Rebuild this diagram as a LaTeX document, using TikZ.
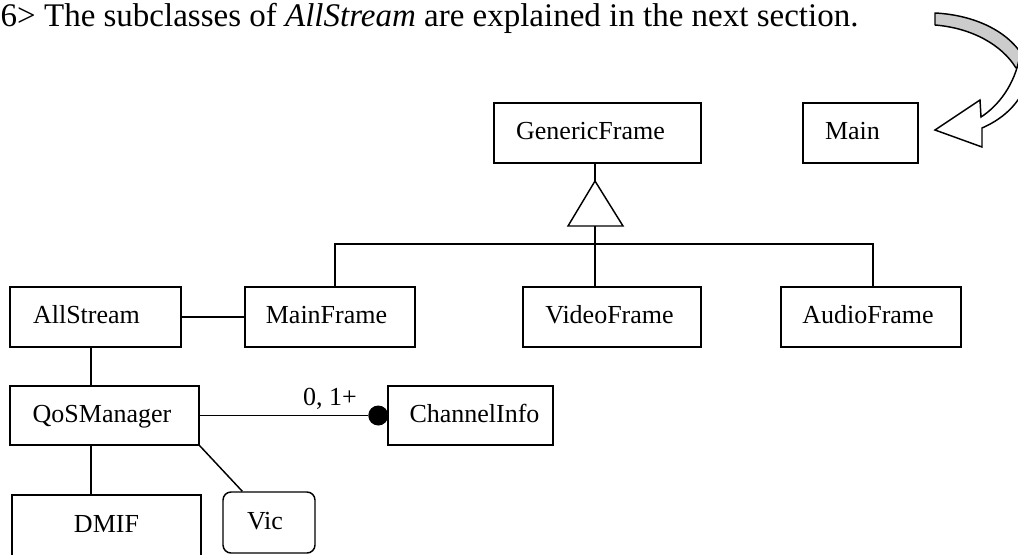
\documentclass[tikz,border=0pt]{standalone}
\usepackage{fontspec}
\setmainfont{Liberation Serif}
\begin{document}
\begin{tikzpicture}[x=0.75pt,y=-0.75pt, line width=1.1pt,
  box/.style={draw, rectangle, inner sep=0pt},
  sz/.style 2 args={minimum width=#1*0.75pt, minimum height=#2*0.75pt},
  lbl/.style={inner sep=0pt, text height=13pt, text depth=3pt, font=\fontsize{19.5}{23}\selectfont},
  txt/.style 2 args={label={[lbl, xshift=#1*0.75pt]center:#2}},
  bandgray/.style={draw, fill=black!20, line join=round},
  bandwhite/.style={draw, fill=white, line join=miter}]
\useasboundingbox (0,0) rectangle (1018,554);
\clip (0,0) rectangle (1018,554);

% caption
\node[anchor=base west, inner sep=0pt, font=\fontsize{24.75}{30}\selectfont] (caption) at (0,26)
  {6> The subclasses of \textit{AllStream} are explained in the next section.};

% curved arrow
\path[bandgray] (935,13) .. controls (975,15) and (1012,32) .. (1026,62)
  -- (1016,68) .. controls (1002,45) and (972,28) .. (935,25) -- cycle;
\path[bandwhite] (1020,55) .. controls (1015,85) and (998,106) .. (981,117)
  -- (980,100) -- (935,130) -- (982,147) -- (982,128)
  .. controls (1005,118) and (1025,100) .. (1030,70) -- cycle;

% classes
\node[box, sz={207}{60}, txt={-7}{GenericFrame}] (generic) at (597.5,133) {};
\node[box, sz={115}{60}, txt={-8}{Main}] (main) at (860.5,133) {};
\node[box, sz={178}{60}, txt={-2.5}{VideoFrame}] (video) at (612,317) {};
\node[box, sz={180}{60}, txt={-3}{AudioFrame}] (audio) at (871,317) {};
\node[box, sz={170}{60}, txt={-3.5}{MainFrame}] (mainframe) at (330,317) {};
\node[box, sz={171}{60}, txt={-9}{AllStream}] (allstream) at (95.5,317) {};
\node[box, sz={189}{59}, txt={-2.5}{QoSManager}] (qos) at (104.5,415.5) {};
\node[box, sz={165}{59}, txt={4}{ChannelInfo}] (chan) at (470.5,415.5) {};
\node[box, sz={189}{62}, txt={0}{DMIF}] (dmif) at (106.5,526) {};
\node[box, sz={92}{61}, rounded corners=6pt, txt={-4}{Vic}] (vic) at (269,522.5) {};

% generalization
\coordinate (apex) at (595,181);
\coordinate (bl) at (568,226);
\coordinate (br) at (623,226);
\coordinate (bm) at (595,226);
\coordinate (jc) at (595,244);
\coordinate (jl) at (335,244);
\coordinate (jr) at (873,244);
\draw (generic.south -| apex) -- (apex);
\draw[line join=miter] (apex) -- (bl) -- (br) -- cycle;
\draw (bm) -- (jc) -- (jc |- video.north);
\draw (jl |- mainframe.north) -- (jl) -- (jr) -- (jr |- audio.north);

% associations
\coordinate (cx) at (91,0);
\draw (allstream.east) -- (mainframe.west);
\draw (allstream.south -| cx) -- (qos.north -| cx);
\draw (qos.south -| cx) -- (dmif.north -| cx);
\draw (qos.south east) -- ([xshift=15pt]vic.north west);
\node[circle, fill, inner sep=0pt, minimum size=15pt] (ball) at ([xshift=-6.75pt]chan.west) {};
\draw (qos.east) -- (ball);
\node[inner sep=0pt, font=\fontsize{19.5}{23}\selectfont, anchor=base] (mult) at (330,405) {0, 1+};
\end{tikzpicture}
\end{document}
